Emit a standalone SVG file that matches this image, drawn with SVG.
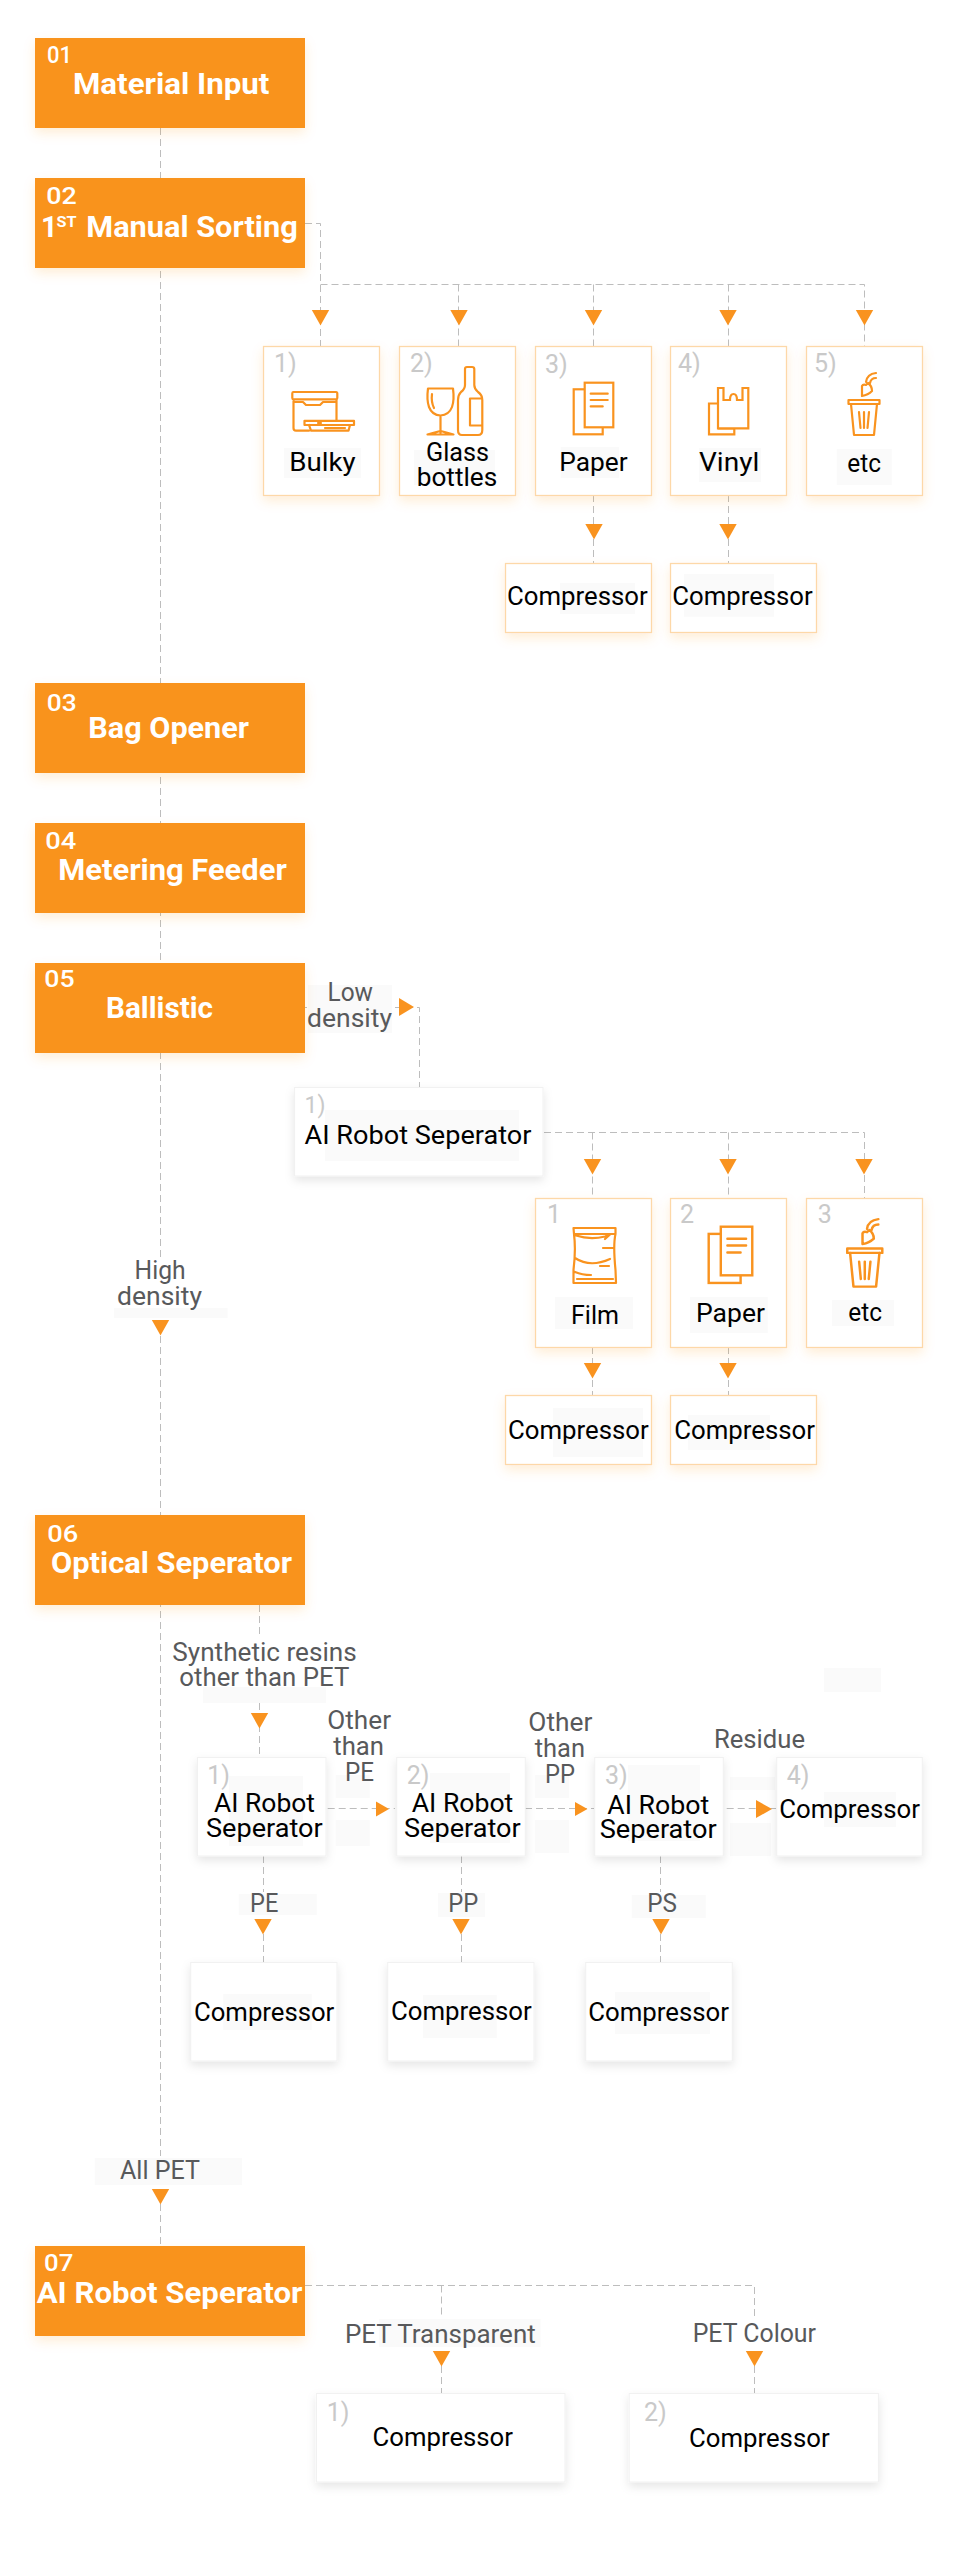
<svg xmlns="http://www.w3.org/2000/svg" xmlns:xlink="http://www.w3.org/1999/xlink" width="958" height="2550" viewBox="0 0 958 2550">
<style>
text{font-family:Roboto,"Liberation Sans",sans-serif;}
.step{fill:#f9931f;filter:url(#so);}
.ob{fill:#fff;stroke:#fdd8a8;stroke-width:1.3;filter:url(#so);}
.gb{fill:#fff;stroke:#f1f1f1;stroke-width:1;filter:url(#sg);}
.num{fill:#fff;font-size:23px;font-weight:500;}
.ttl{fill:#fff;font-size:29px;font-weight:700;}
.idx{fill:#c9c9c9;font-size:25px;}
.lbl{fill:#000;font-size:26px;}
.edge{fill:#58595b;font-size:26px;}
.f{fill:#fafafa;}
.c{fill:none;stroke:#bdbdbd;stroke-width:1;stroke-dasharray:7 4;}
.a{fill:#f9931f;}
.i{fill:none;stroke:#f9931f;stroke-width:2.2;stroke-linejoin:round;stroke-linecap:round;}
.iw{fill:#fff;stroke:#f9931f;stroke-width:2.2;stroke-linejoin:miter;}
</style>
<defs>
<filter id="so" x="-15%" y="-25%" width="130%" height="160%"><feDropShadow dx="0" dy="5" stdDeviation="6" flood-color="#f9931f" flood-opacity=".16"/></filter>
<filter id="sg" x="-15%" y="-25%" width="130%" height="160%"><feDropShadow dx="0" dy="4" stdDeviation="5" flood-color="#000" flood-opacity=".1"/></filter>
<g id="paper">
<rect class="iw" x="0" y="6.6" width="29" height="45"/>
<rect class="iw" x="11" y="0" width="28.6" height="44.6"/>
<path class="i" d="M17 11H34M17 17.3H34M17 23.7H29"/>
</g>
<g id="trash">
<rect class="i" x="0.5" y="28" width="31" height="4"/>
<path class="i" d="M3 32L6 63H26L29 32M11 40L12.5 56M16 40V56M21 40L19.5 56"/>
<path class="i" d="M14 24V14Q15 12 18 13L20 11Q24 14 24 19Q20 23 14 24ZM18 10Q19 2 28 1M22 11Q23 6 28 6"/>
</g>
<path id="ad" class="a" d="M-8.7 0H8.7L0 15.5Z"/>
</defs>
<g id="connectors">
<path class="c" d="M160.5 128V1257M160.5 1336V2156M160.5 2204V2246"/>
<path class="c" d="M305 223.5H320.5V346M320.5 284.5H864.5V346M458.5 284.5V346M593.5 284.5V346M728.5 284.5V346"/>
<path class="c" d="M593.5 495V563M728.5 495V563"/>
<path class="c" d="M305 1007.5H307M395 1007.5H419.5V1087"/>
<path class="c" d="M544 1132.5H864.5V1198M592.5 1132.5V1198M728.5 1132.5V1198"/>
<path class="c" d="M592.5 1347V1395M728.5 1347V1395"/>
<path class="c" d="M259.5 1605V1635M259.5 1703V1757"/>
<path class="c" d="M327.7 1808.5H395M525 1808.5H594M726.7 1808.5H776"/>
<path class="c" d="M263.5 1856V1892M263.5 1934V1962M461.5 1856V1892M461.5 1934V1962M660.5 1856V1892M660.5 1934V1962"/>
<path class="c" d="M305 2285.5H754.5V2316M441.5 2285.5V2316M441.5 2366V2393M754.5 2366V2393"/>
</g>
<g id="arrowheads">
<use xlink:href="#ad" href="#ad" x="320.5" y="310"/><use href="#ad" x="459" y="310"/><use href="#ad" x="593.5" y="310"/><use href="#ad" x="728" y="310"/><use href="#ad" x="864.5" y="310"/>
<use href="#ad" x="594" y="524"/><use href="#ad" x="728" y="524"/>
<use href="#ad" x="592.5" y="1159"/><use href="#ad" x="728" y="1159"/><use href="#ad" x="864" y="1159"/>
<use href="#ad" x="592.5" y="1363"/><use href="#ad" x="728" y="1363"/>
<use href="#ad" x="160.5" y="1320"/><use href="#ad" x="259.5" y="1713"/>
<use href="#ad" x="263" y="1919"/><use href="#ad" x="461" y="1919"/><use href="#ad" x="661" y="1919"/>
<use href="#ad" x="160.5" y="2189"/><use href="#ad" x="441.5" y="2351"/><use href="#ad" x="754.5" y="2351"/>
<path class="a" d="M399 998V1016L414 1007Z"/>
<path class="a" d="M376 1801.5V1816.5L389 1809Z"/>
<path class="a" d="M575 1802V1816L587.5 1809Z"/>
<path class="a" d="M756 1800V1818L772 1809Z"/>
</g>
<g id="edge-labels">
<rect class="f" x="308" y="985" width="84" height="48"/>
<text class="edge" x="327.5" y="1001" textLength="45.5" lengthAdjust="spacingAndGlyphs">Low</text>
<text class="edge" x="307" y="1026.7" textLength="85" lengthAdjust="spacingAndGlyphs">density</text>
<rect class="f" x="114" y="1308" width="113.5" height="10"/>
<text class="edge" x="134.6" y="1279" textLength="51" lengthAdjust="spacingAndGlyphs">High</text>
<text class="edge" x="117" y="1305" textLength="85" lengthAdjust="spacingAndGlyphs">density</text>
<rect class="f" x="203" y="1687" width="123" height="16"/>
<text class="edge" x="172.3" y="1660.7" textLength="184.4" lengthAdjust="spacingAndGlyphs">Synthetic resins</text>
<text class="edge" x="179.3" y="1685.7" textLength="170" lengthAdjust="spacingAndGlyphs">other than PET</text>
<rect class="f" x="335.7" y="1775" width="34" height="23"/><rect class="f" x="335.7" y="1820" width="34" height="26"/>
<text class="edge" x="327.3" y="1729" textLength="63.7" lengthAdjust="spacingAndGlyphs">Other</text>
<text class="edge" x="333.3" y="1755" textLength="50.7" lengthAdjust="spacingAndGlyphs">than</text>
<text class="edge" x="345" y="1781" textLength="29" lengthAdjust="spacingAndGlyphs">PE</text>
<rect class="f" x="535" y="1775" width="34" height="23"/><rect class="f" x="535" y="1820" width="34" height="33"/>
<text class="edge" x="528.3" y="1731" textLength="64" lengthAdjust="spacingAndGlyphs">Other</text>
<text class="edge" x="534.7" y="1756.7" textLength="50.3" lengthAdjust="spacingAndGlyphs">than</text>
<text class="edge" x="545" y="1782.7" textLength="30" lengthAdjust="spacingAndGlyphs">PP</text>
<rect class="f" x="824" y="1668" width="57" height="24"/>
<rect class="f" x="730" y="1777" width="45" height="13"/><rect class="f" x="730" y="1823" width="41" height="33"/>
<text class="edge" x="714" y="1748" textLength="91" lengthAdjust="spacingAndGlyphs">Residue</text>
<rect class="f" x="238.7" y="1894" width="78" height="21"/>
<text class="edge" x="250" y="1912.3" textLength="28.3" lengthAdjust="spacingAndGlyphs">PE</text>
<rect class="f" x="438" y="1893" width="47" height="24"/>
<text class="edge" x="448.3" y="1912.3" textLength="30" lengthAdjust="spacingAndGlyphs">PP</text>
<rect class="f" x="631.7" y="1895" width="74" height="23"/>
<text class="edge" x="647.3" y="1912.3" textLength="29.7" lengthAdjust="spacingAndGlyphs">PS</text>
<rect class="f" x="94.7" y="2158" width="147.3" height="27"/>
<text class="edge" x="120" y="2179" textLength="80" lengthAdjust="spacingAndGlyphs">All PET</text>
<rect class="f" x="379" y="2319" width="161.6" height="28"/>
<text class="edge" x="345" y="2342.7" textLength="190.7" lengthAdjust="spacingAndGlyphs">PET Transparent</text>
<text class="edge" x="692.7" y="2341.7" textLength="123.3" lengthAdjust="spacingAndGlyphs">PET Colour</text>
</g>
<g id="s01"><rect class="step" x="35" y="38" width="270" height="90"/><text class="num" x="47" y="62.7" textLength="25" lengthAdjust="spacingAndGlyphs">01</text><text class="ttl" x="73" y="94.3" textLength="196.3" lengthAdjust="spacingAndGlyphs">Material Input</text></g>
<g id="s02"><rect class="step" x="35" y="178" width="270" height="90"/><text class="num" x="46.3" y="204" textLength="30.5" lengthAdjust="spacingAndGlyphs">02</text><text class="ttl" x="41" y="237">1</text><text x="56.5" y="226.7" fill="#fff" font-size="15" font-weight="700" textLength="20" lengthAdjust="spacingAndGlyphs">ST</text><text class="ttl" x="86.3" y="237" textLength="211.4" lengthAdjust="spacingAndGlyphs">Manual Sorting</text></g>
<g id="s03"><rect class="step" x="35" y="683" width="270" height="90"/><text class="num" x="46.7" y="710.7" textLength="30" lengthAdjust="spacingAndGlyphs">03</text><text class="ttl" x="88.3" y="738.3" textLength="160.7" lengthAdjust="spacingAndGlyphs">Bag Opener</text></g>
<g id="s04"><rect class="step" x="35" y="823" width="270" height="90"/><text class="num" x="45.3" y="849" textLength="31" lengthAdjust="spacingAndGlyphs">04</text><text class="ttl" x="58.3" y="880" textLength="228.4" lengthAdjust="spacingAndGlyphs">Metering Feeder</text></g>
<g id="s05"><rect class="step" x="35" y="963" width="270" height="90"/><text class="num" x="44.3" y="986.7" textLength="30.3" lengthAdjust="spacingAndGlyphs">05</text><text class="ttl" x="106" y="1017.7" textLength="107" lengthAdjust="spacingAndGlyphs">Ballistic</text></g>
<g id="s06"><rect class="step" x="35" y="1515" width="270" height="90"/><text class="num" x="47.3" y="1541.7" textLength="31" lengthAdjust="spacingAndGlyphs">06</text><text class="ttl" x="51" y="1573.3" textLength="241" lengthAdjust="spacingAndGlyphs">Optical Seperator</text></g>
<g id="s07"><rect class="step" x="35" y="2246" width="270" height="90"/><text class="num" x="44" y="2270.7" textLength="29.3" lengthAdjust="spacingAndGlyphs">07</text><text class="ttl" x="36.7" y="2302.7" textLength="265.7" lengthAdjust="spacingAndGlyphs">AI Robot Seperator</text></g>

<g id="b1"><rect class="ob" x="263.5" y="346.5" width="116" height="149"/><rect class="f" x="284" y="448" width="77" height="30"/><text class="idx" x="274" y="371.7">1)</text>
<path class="i" d="M293 392H336Q337.3 392 337.3 393.5V398Q337.3 399.3 336 399.3H293.5Q292.3 399.3 292.3 398V393.5Q292.3 392 293 392ZM293.5 399.3V428Q293.5 430.7 296 430.7H309M336.5 399.3V420.7M293.5 402H303L306 405H320L323 402H336.5"/>
<path class="i" d="M304.5 420.8H354V425H304.5ZM309 425L311 430.7H348.5L350 425M318 423H321M325 428H345"/>
<text class="lbl" x="289.3" y="471" textLength="66.4" lengthAdjust="spacingAndGlyphs">Bulky</text></g>
<g id="b2"><rect class="ob" x="399.5" y="346.5" width="116" height="149"/><rect class="f" x="414" y="450" width="81" height="35"/><text class="idx" x="410" y="371.7">2)</text>
<path class="i" d="M428 388.5H453Q454.5 400 452 407Q449 415 440.5 415.5Q432 415 429 407Q426.5 400 428 388.5ZM440.5 415.5V433M427.5 434.5Q437 432 440.5 431Q444 432 453.5 434.5ZM432 394Q431 402 434 408"/>
<path class="i" d="M465 369Q465 367 467 367H472Q474.3 367 474.3 369V385Q474.3 389 478 392Q482.3 395 482.3 400V430Q482.3 435 478 435H462Q458 435 458 430V400Q458 395 461 392Q465 389 465 385ZM482 398.5H470V425.5H482"/>
<text class="lbl" x="426" y="460.5" font-size="25" style="font-size:25px" textLength="63" lengthAdjust="spacingAndGlyphs">Glass</text><text class="lbl" x="416.7" y="486" style="font-size:25px" textLength="80.6" lengthAdjust="spacingAndGlyphs">bottles</text></g>
<g id="b3"><rect class="ob" x="535.5" y="346.5" width="116" height="149"/><rect class="f" x="560.7" y="447" width="58.3" height="31"/><text class="idx" x="545" y="372.7">3)</text>
<use href="#paper" x="573.7" y="382.7"/>
<text class="lbl" x="559.3" y="470.7" textLength="68.4" lengthAdjust="spacingAndGlyphs">Paper</text></g>
<g id="b4"><rect class="ob" x="670.5" y="346.5" width="116" height="149"/><rect class="f" x="699" y="448" width="62" height="34"/><text class="idx" x="678" y="371.7">4)</text>
<path class="iw" d="M709 403.5H719V428.5H734.3V434.3H709Z"/>
<path class="iw" d="M718 388H723.5V400H730Q730 394 733.5 394Q737 394 737 400H742.5V388H748.3V428.3H718Z"/>
<text class="lbl" x="699" y="471" textLength="60.3" lengthAdjust="spacingAndGlyphs">Vinyl</text></g>
<g id="b5"><rect class="ob" x="806.5" y="346.5" width="116" height="149"/><rect class="f" x="836.7" y="449" width="55" height="36"/><text class="idx" x="814" y="371.7">5)</text>
<use href="#trash" x="848" y="372"/>
<text class="lbl" x="847.3" y="472.3" textLength="33.7" lengthAdjust="spacingAndGlyphs">etc</text></g>
<g id="c3"><rect class="ob" x="505.5" y="563.5" width="146" height="69"/><rect class="f" x="560" y="583" width="75" height="31"/><text class="lbl" x="507" y="605" textLength="140.7" lengthAdjust="spacingAndGlyphs">Compressor</text></g>
<g id="c4"><rect class="ob" x="670.5" y="563.5" width="146" height="69"/><rect class="f" x="684" y="574" width="90" height="42.7"/><text class="lbl" x="672.3" y="605" textLength="140.4" lengthAdjust="spacingAndGlyphs">Compressor</text></g>

<g id="r5"><rect class="gb" x="294.6" y="1087.5" width="248.4" height="88.5"/><rect class="f" x="325" y="1110" width="194" height="51"/><text class="idx" x="304.6" y="1113" style="font-size:23px">1)</text><text class="lbl" x="304.6" y="1144.3" textLength="226.8" lengthAdjust="spacingAndGlyphs">AI Robot Seperator</text></g>
<g id="f1"><rect class="ob" x="535.5" y="1198.5" width="116" height="149"/><rect class="f" x="555" y="1297" width="78" height="32"/><text class="idx" x="547" y="1223.3">1</text>
<path class="i" d="M573.5 1228H615.5V1234Q613 1245 615.5 1270L616 1283H573.5V1270Q576 1250 574 1234ZM574 1234H615M576 1235.5Q590 1240 605 1236.5L610 1234.5L605 1239M603 1248H613M575 1258Q590 1268 610 1259M600 1266H609M575 1272Q582 1275 591 1275M577 1279H613"/>
<text class="lbl" x="571" y="1324" textLength="48" lengthAdjust="spacingAndGlyphs">Film</text></g>
<g id="f2"><rect class="ob" x="670.5" y="1198.5" width="116" height="149"/><rect class="f" x="690" y="1297" width="77.7" height="36"/><text class="idx" x="680" y="1223.3">2</text>
<use href="#paper" transform="translate(708.7 1226.7) scale(1.1 1.09)"/>
<text class="lbl" x="696" y="1321.7" textLength="69" lengthAdjust="spacingAndGlyphs">Paper</text></g>
<g id="f3"><rect class="ob" x="806.5" y="1198.5" width="116" height="149"/><rect class="f" x="832" y="1300" width="62" height="26"/><text class="idx" x="817.7" y="1223.3">3</text>
<use href="#trash" transform="translate(846.7 1218) scale(1.13 1.09)"/>
<text class="lbl" x="848.3" y="1320.7" textLength="33.7" lengthAdjust="spacingAndGlyphs">etc</text></g>
<g id="f4"><rect class="ob" x="505.5" y="1395.5" width="146" height="69"/><rect class="f" x="553" y="1408" width="90" height="49"/><text class="lbl" x="508" y="1439.3" textLength="140.7" lengthAdjust="spacingAndGlyphs">Compressor</text></g>
<g id="f5"><rect class="ob" x="670.5" y="1395.5" width="146" height="69"/><rect class="f" x="688" y="1415" width="82" height="35"/><text class="lbl" x="674.3" y="1439.3" textLength="140.7" lengthAdjust="spacingAndGlyphs">Compressor</text></g>

<g id="a1"><rect class="gb" x="197.5" y="1757.5" width="128.5" height="98.5"/><rect class="f" x="229" y="1776" width="74" height="70"/><text class="idx" x="207.3" y="1784">1)</text><text class="lbl" x="214" y="1812.3" textLength="101" lengthAdjust="spacingAndGlyphs">AI Robot</text><text class="lbl" x="206" y="1837.3" textLength="116.7" lengthAdjust="spacingAndGlyphs">Seperator</text></g>
<g id="a2"><rect class="gb" x="396.7" y="1757.5" width="128.6" height="98.5"/><rect class="f" x="430" y="1773" width="80" height="70"/><text class="idx" x="406.7" y="1784">2)</text><text class="lbl" x="411.7" y="1812.3" textLength="101.6" lengthAdjust="spacingAndGlyphs">AI Robot</text><text class="lbl" x="404" y="1837.3" textLength="116.7" lengthAdjust="spacingAndGlyphs">Seperator</text></g>
<g id="a3"><rect class="gb" x="594.7" y="1757.5" width="128.6" height="98.5"/><rect class="f" x="628" y="1765" width="72" height="76"/><text class="idx" x="605" y="1784">3)</text><text class="lbl" x="607.3" y="1813.7" textLength="102" lengthAdjust="spacingAndGlyphs">AI Robot</text><text class="lbl" x="599.7" y="1838.3" textLength="117" lengthAdjust="spacingAndGlyphs">Seperator</text></g>
<g id="a4"><rect class="gb" x="776.7" y="1757.5" width="145.6" height="98.5"/><rect class="f" x="824" y="1792" width="72" height="35"/><text class="idx" x="786.7" y="1784">4)</text><text class="lbl" x="779.3" y="1818.3" textLength="140.7" lengthAdjust="spacingAndGlyphs">Compressor</text></g>
<g id="a5"><rect class="gb" x="190.7" y="1962.5" width="146.3" height="98.5"/><rect class="f" x="223.3" y="1994" width="88.4" height="36"/><text class="lbl" x="194" y="2021" textLength="140.3" lengthAdjust="spacingAndGlyphs">Compressor</text></g>
<g id="a6"><rect class="gb" x="387.7" y="1962.5" width="146.3" height="98.5"/><rect class="f" x="423" y="1995" width="73.7" height="43"/><text class="lbl" x="391" y="2020" textLength="140.7" lengthAdjust="spacingAndGlyphs">Compressor</text></g>
<g id="a7"><rect class="gb" x="585.7" y="1962.5" width="146.6" height="98.5"/><rect class="f" x="615" y="1992" width="95" height="42"/><text class="lbl" x="588.3" y="2021" textLength="140.7" lengthAdjust="spacingAndGlyphs">Compressor</text></g>

<g id="p1"><rect class="gb" x="316.4" y="2393.5" width="248.6" height="88.5"/><text class="idx" x="326.8" y="2421">1)</text><text class="lbl" x="372.6" y="2445.7" textLength="140.4" lengthAdjust="spacingAndGlyphs">Compressor</text></g>
<g id="p2"><rect class="gb" x="629.2" y="2393.5" width="249.2" height="88.5"/><text class="idx" x="643.9" y="2421">2)</text><text class="lbl" x="689" y="2446.7" textLength="140.6" lengthAdjust="spacingAndGlyphs">Compressor</text></g>
</svg>
